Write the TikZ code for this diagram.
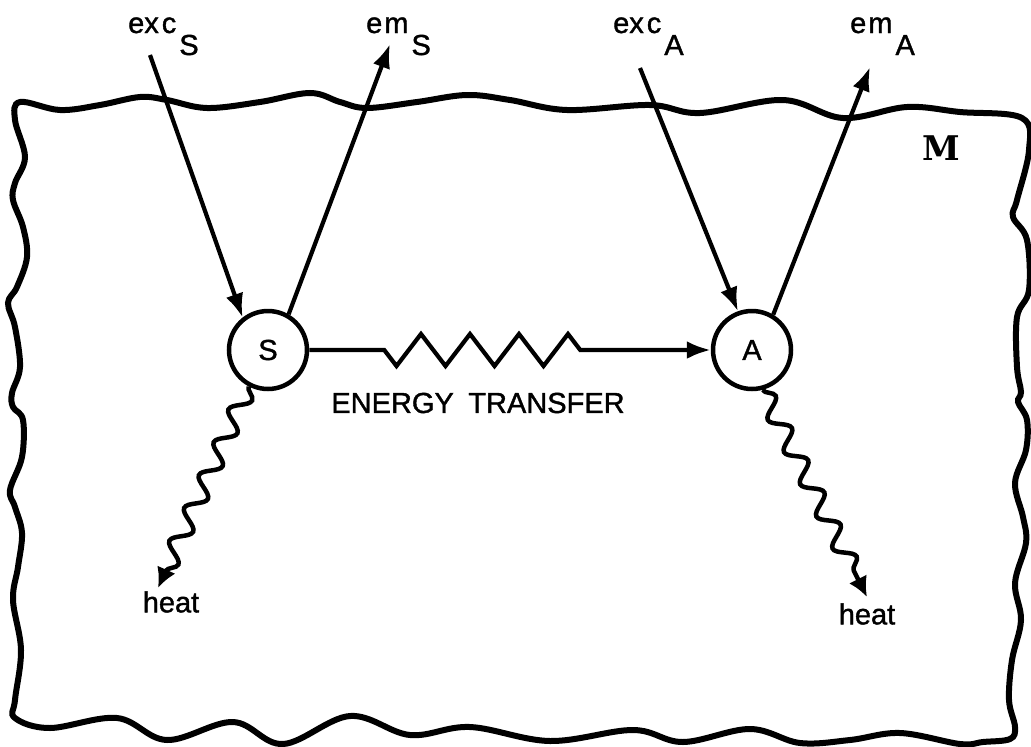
\documentclass[tikz,border=0pt]{standalone}
\usepackage{fontspec}
\newfontfamily\lettering{Liberation Sans}[FakeBold=1.3]
\newfontfamily\slab{DejaVu Serif}
\usetikzlibrary{arrows.meta,decorations.pathmorphing}

\tikzset{
  particle/.style={draw, circle, line width=4.5pt, minimum size=78pt, inner sep=0pt},
  tag/.style={font=\lettering\fontsize{29}{31}\selectfont, inner sep=0pt},
  beam/.style={line width=4.2pt, -{Latex[length=24pt,width=18pt]}},
  heatwave/.style={line width=4.5pt, -{Latex[length=20pt,width=20pt]}, decorate,
    decoration={snake, amplitude=9pt, segment length=36pt, post length=16pt}},
}

\begin{document}
\begin{tikzpicture}[x=1pt, y=-1pt]
  \useasboundingbox (0,0) rectangle (1031,747);
  % the medium
  \draw[line width=6pt] plot[smooth cycle, tension=0.6] coordinates {
    (20,102) (60,110) (100,105) (140,97) (167,100) (207,108) (260,102) (310,93)
    (340,102) (367,108) (417,102) (467,95) (510,100) (567,110) (650,105) (700,113)
    (783,100) (843,118) (907,107) (960,112) (1022,118)
    (1029,150) (1017,200) (1013,217) (1027,240) (1029,290) (1017,317) (1017,367)
    (1021,392) (1018,402) (1027,420) (1026,450) (1015,483) (1023,517) (1026,543)
    (1015,583) (1021,620) (1012,660) (1009,700) (1015,727) (1010,739)
    (983,742) (960,744) (900,733) (850,740) (800,743) (750,729) (683,742) (633,730)
    (550,741) (470,727) (410,735) (350,716) (283,744) (233,722) (167,740) (117,718)
    (50,728) (15,718)
    (15,700) (21,650) (13,600) (18,567) (22,533) (15,507) (10,490) (22,457)
    (23,420) (13,407) (12,393) (20,367) (15,327) (8,303) (17,287) (27,257)
    (23,227) (13,200) (15,183) (25,157) (15,120)};
  \node[font=\slab\bfseries\fontsize{34}{36}\selectfont, inner sep=0pt] (M) at (941,148) {M};

  % the two centres
  \node[particle, tag] (S) at (268,350) {S};
  \node[particle, tag] (A) at (752,350) {A};

  % excitation and emission
  \node[tag, anchor=base west] (excS) at (128,33) {ex\kern3pt c\kern3pt\raisebox{-22pt}{S}};
  \node[tag, anchor=base west] (emS) at (366,33) {e\kern2pt m\kern3pt\raisebox{-22pt}{S}};
  \node[tag, anchor=base west] (excA) at (613,33) {ex\kern3pt c\kern3pt\raisebox{-22pt}{A}};
  \node[tag, anchor=base west] (emA) at (850,33) {e\kern2pt m\kern3pt\raisebox{-22pt}{A}};
  \coordinate (excS-in) at (150,55);
  \coordinate (emS-out) at (390,44);
  \coordinate (excA-in) at (640,68);
  \coordinate (emA-out) at (870,67);
  \draw[beam] (excS-in) -- (S.128);
  \draw[beam] (S.60) -- (emS-out);
  \draw[beam] (excA-in) -- (A.110);
  \draw[beam] (A.59) -- (emA-out);

  % transfer S -> A
  \draw[beam, decorate, decoration={zigzag, mirror, amplitude=16pt, segment length=49pt,
    pre length=75pt, post length=109pt}] (S) -- (A);
  \node[tag] (transfer) at (478,403) {ENERGY\enspace TRANSFER};

  % losses
  \node[tag] (heatS) at (171,602) {heat};
  \node[tag] (heatA) at (867,614) {heat};
  \coordinate (heatS-out) at (158,588);
  \coordinate (heatA-out) at (867,597);
  \draw[heatwave] (S.-118) -- (heatS-out);
  \draw[heatwave] (A.-75) -- (heatA-out);
\end{tikzpicture}
\end{document}
